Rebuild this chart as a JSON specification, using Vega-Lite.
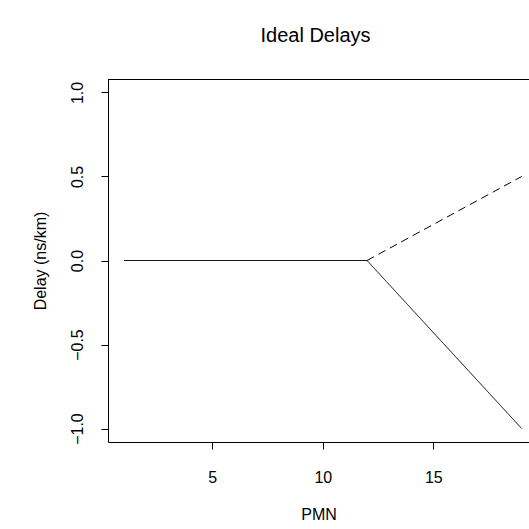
{
  "$schema": "https://vega.github.io/schema/vega-lite/v6.json",
  "width": 421,
  "height": 363,
  "autosize": {"type": "none"},
  "padding": {"left": 108, "top": 79, "right": 0, "bottom": 87},
  "background": "white",
  "title": {
    "text": "Ideal Delays",
    "font": "Liberation Sans",
    "fontSize": 20,
    "fontWeight": "normal",
    "color": "black",
    "offset": 33,
    "dx": -3
  },
  "config": {
    "view": {"stroke": null},
    "axis": {
      "grid": false,
      "domainColor": "black",
      "domainWidth": 1,
      "tickColor": "black",
      "tickWidth": 1,
      "tickSize": 7,
      "labelFont": "Liberation Sans",
      "labelFontSize": 16,
      "labelColor": "black",
      "titleFont": "Liberation Sans",
      "titleFontSize": 16,
      "titleFontWeight": "normal",
      "titleColor": "black"
    }
  },
  "data": {
    "values": [
      {"pmn": 1, "delay": 0, "series": "solid"},
      {"pmn": 12, "delay": 0, "series": "solid"},
      {"pmn": 19, "delay": -1, "series": "solid"},
      {"pmn": 12, "delay": 0, "series": "dashed"},
      {"pmn": 19, "delay": 0.5, "series": "dashed"}
    ]
  },
  "layer": [
    {
      "mark": {"type": "line", "color": "black", "strokeWidth": 1},
      "encoding": {
        "x": {
          "field": "pmn",
          "type": "quantitative",
          "scale": {"domain": [0.28, 19.33], "nice": false, "zero": false},
          "axis": {
            "title": "PMN",
            "values": [5, 10, 15],
            "labelPadding": 20,
            "titlePadding": 21
          }
        },
        "y": {
          "field": "delay",
          "type": "quantitative",
          "scale": {"domain": [-1.08, 1.08], "nice": false, "zero": false},
          "axis": {
            "title": "Delay (ns/km)",
            "values": [-1, -0.5, 0, 0.5, 1],
            "format": ".1f",
            "labelAngle": -90,
            "labelAlign": "center",
            "labelBaseline": "bottom",
            "labelPadding": 16,
            "titlePadding": 21
          }
        },
        "detail": {"field": "series"},
        "strokeDash": {
          "field": "series",
          "type": "nominal",
          "scale": {"domain": ["solid", "dashed"], "range": [[1, 0], [8, 5]]},
          "legend": null
        }
      }
    },
    {
      "mark": {"type": "rule", "color": "black", "strokeWidth": 1, "yOffset": 0.5},
      "encoding": {"y": {"datum": 1.08}}
    }
  ]
}
